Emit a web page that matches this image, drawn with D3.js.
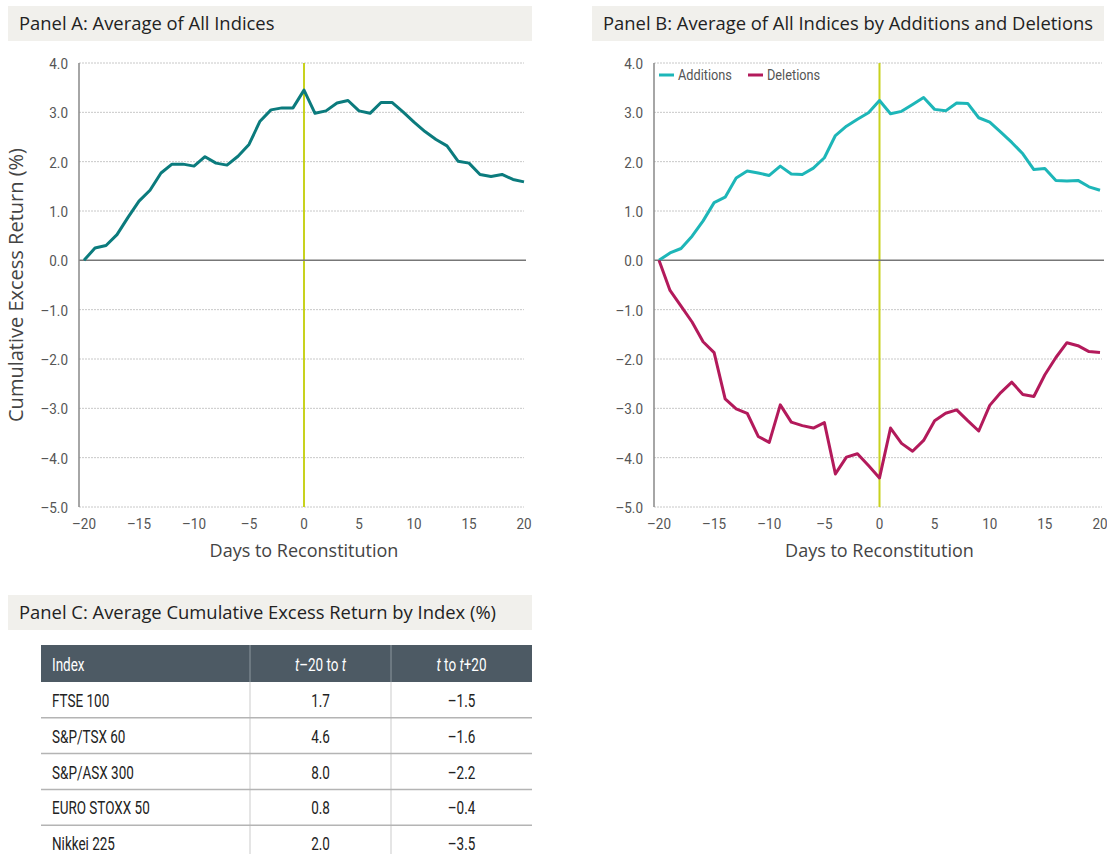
<!DOCTYPE html>
<html>
<head>
<meta charset="utf-8">
<script src="https://cdn.jsdelivr.net/npm/d3@7"></script>
<style>
body { margin: 0; background: #fff; }
svg { display: block; }
.title { font-family: "Open Sans", "Noto Sans", sans-serif; font-size: 18.4px; fill: #222; }
.tick-label { font-family: Roboto, sans-serif; font-size: 15px; fill: #555; }
.axis-title { font-family: "Open Sans", "Noto Sans", sans-serif; font-size: 18px; fill: #444; }
.cell { font-family: Roboto, sans-serif; font-size: 18px; fill: #222; }
</style>
</head>
<body>
<div id="chart"></div>
<script>
const WIDTH = 1107
const HEIGHT = 854
const NARROW = 0.75

const days = d3.range(-20, 21)
const allIndices = [0.00, 0.25, 0.30, 0.52, 0.87, 1.20, 1.42, 1.77, 1.95, 1.95, 1.91, 2.10, 1.97, 1.93, 2.11, 2.35, 2.82, 3.05, 3.09, 3.09,
    3.45, 2.98, 3.03, 3.19, 3.24, 3.03, 2.98, 3.20, 3.20, 3.01, 2.80, 2.61, 2.45, 2.32, 2.01, 1.97, 1.74, 1.70, 1.74, 1.64, 1.59]
const additions = [0.00, 0.15, 0.24, 0.49, 0.80, 1.17, 1.28, 1.67, 1.81, 1.77, 1.72, 1.91, 1.75, 1.74, 1.87, 2.08, 2.53, 2.72, 2.86, 2.99,
    3.24, 2.97, 3.02, 3.16, 3.30, 3.06, 3.03, 3.19, 3.18, 2.89, 2.80, 2.60, 2.39, 2.16, 1.84, 1.86, 1.62, 1.61, 1.62, 1.49, 1.42]
const deletions = [0.00, -0.61, -0.93, -1.25, -1.65, -1.87, -2.81, -3.01, -3.10, -3.57, -3.69, -2.93, -3.28, -3.35, -3.40, -3.29, -4.33, -3.99, -3.92, -4.16,
    -4.41, -3.40, -3.71, -3.87, -3.65, -3.25, -3.10, -3.03, -3.25, -3.46, -2.94, -2.68, -2.47, -2.72, -2.76, -2.32, -1.97, -1.67, -1.73, -1.85, -1.87]

const yTicks = [-5, -4, -3, -2, -1, 0, 1, 2, 3, 4]
const xTicks = [-20, -15, -10, -5, 0, 5, 10, 15, 20]

const tableHeader = ["Index", "t–20 to t", "t to t+20"]
const indexNames = ["FTSE 100", "S&P/TSX 60", "S&P/ASX 300", "EURO STOXX 50", "Nikkei 225"]
const before = ["1.7", "4.6", "8.0", "0.8", "2.0"]
const after = ["–1.5", "–1.6", "–2.2", "–0.4", "–3.5"]

const COLORS = { all: "#0b7b7d", add: "#1db6b8", del: "#b31a5b", zero: "#c8d21e" }

function fmt(v) {
    return d3.format(".1f")(v).replace("−", "–").replace("-", "–")
}

const svg = d3.select("#chart")
    .append("svg")
    .attr("width", WIDTH)
    .attr("height", HEIGHT)

// condensed-looking text: squeeze horizontally around its anchor point
function narrowText(parent, cls, x, y, anchor, sx) {
    return parent.append("g")
        .attr("transform", `translate(${x},${y}) scale(${sx || NARROW},1)`)
        .append("text")
        .attr("class", cls)
        .attr("text-anchor", anchor || "start")
}

function titleBox(x, y, w, text) {
    svg.append("rect")
        .attr("x", x).attr("y", y).attr("width", w).attr("height", 35)
        .attr("fill", "#f1f0ec")
    svg.append("text")
        .attr("class", "title")
        .attr("x", x + 11).attr("y", y + 24)
        .text(text)
}

function drawPanel(x, y, axisX, gridRight, series) {
    const g = svg.append("g")

    // gridlines
    g.selectAll(".grid")
        .data(yTicks.filter(t => t != 0))
        .enter().append("line")
        .attr("x1", axisX).attr("x2", gridRight)
        .attr("y1", d => y(d)).attr("y2", d => y(d))
        .attr("stroke", "#c8c8c8")
        .attr("stroke-dasharray", "2,1")

    // vertical line at day 0
    g.append("line")
        .attr("x1", x(0)).attr("x2", x(0))
        .attr("y1", y(4)).attr("y2", y(-5))
        .attr("stroke", COLORS.zero).attr("stroke-width", 2)

    // zero line
    g.append("line")
        .attr("x1", axisX).attr("x2", gridRight + 2)
        .attr("y1", y(0)).attr("y2", y(0))
        .attr("stroke", "#777").attr("stroke-width", 1.5)

    // y axis line
    g.append("line")
        .attr("x1", axisX).attr("x2", axisX)
        .attr("y1", y(4)).attr("y2", y(-5))
        .attr("stroke", "#888").attr("stroke-width", 1.5)

    yTicks.forEach(t => {
        narrowText(g, "tick-label", axisX - 11, y(t) + 6, "end", 0.9).text(fmt(t))
    })
    xTicks.forEach(t => {
        narrowText(g, "tick-label", x(t), y(-5) + 22, "middle", 0.9).text(String(t).replace("-", "–"))
    })

    g.append("text")
        .attr("class", "axis-title")
        .attr("x", x(0))
        .attr("y", y(-5) + 50)
        .attr("text-anchor", "middle")
        .text("Days to Reconstitution")

    const line = d3.line()
        .x((d, i) => x(days[i]))
        .y(d => y(d))

    series.forEach(s => {
        g.append("path")
            .datum(s.values)
            .attr("d", line)
            .attr("fill", "none")
            .attr("stroke", s.color)
            .attr("stroke-width", 3)
            .attr("stroke-linejoin", "round")
    })
}

// Panel A
titleBox(8, 6, 524, "Panel A: Average of All Indices")
const xA = d3.scaleLinear().domain([-20, 20]).range([84, 524])
const yA = d3.scaleLinear().domain([-5, 4]).range([507, 63])
drawPanel(xA, yA, 79, 524, [{ values: allIndices, color: COLORS.all }])

svg.append("text")
    .attr("class", "axis-title")
    .style("font-size", "20px")
    .attr("transform", "translate(23,285) rotate(-90)")
    .attr("text-anchor", "middle")
    .text("Cumulative Excess Return (%)")

// Panel B
titleBox(592, 6, 512, "Panel B: Average of All Indices by Additions and Deletions")
const xB = d3.scaleLinear().domain([-20, 20]).range([659, 1100])
const yB = d3.scaleLinear().domain([-5, 4]).range([507, 63])
drawPanel(xB, yB, 654, 1102, [
    { values: additions, color: COLORS.add },
    { values: deletions, color: COLORS.del }
])

// legend
const legend = [
    { name: "Additions", color: COLORS.add, x: 659 },
    { name: "Deletions", color: COLORS.del, x: 748 }
]
legend.forEach(l => {
    svg.append("line")
        .attr("x1", l.x).attr("x2", l.x + 15)
        .attr("y1", 75).attr("y2", 75)
        .attr("stroke", l.color).attr("stroke-width", 3)
    narrowText(svg, "tick-label", l.x + 19, 80, "start", 0.85).text(l.name)
})

// Panel C table
titleBox(8, 595, 524, "Panel C: Average Cumulative Excess Return by Index (%)")

const tableX = 41, tableRight = 532
const colX = [tableX, 250, 391, tableRight]
const headerTop = 645, headerH = 37, rowH = 35.8

svg.append("rect")
    .attr("x", tableX).attr("y", headerTop)
    .attr("width", tableRight - tableX).attr("height", headerH)
    .attr("fill", "#4d5a64")

// column dividers
colX.slice(1, 3).forEach(cx => {
    svg.append("line")
        .attr("x1", cx).attr("x2", cx)
        .attr("y1", headerTop).attr("y2", headerTop + headerH)
        .attr("stroke", "#8d979e").attr("stroke-width", 1)
    svg.append("line")
        .attr("x1", cx).attr("x2", cx)
        .attr("y1", headerTop + headerH).attr("y2", HEIGHT)
        .attr("stroke", "#dcdcdc").attr("stroke-width", 1.5)
})

// header text
narrowText(svg, "cell", tableX + 11, headerTop + 26).style("fill", "#fff").text(tableHeader[0])

const h1 = narrowText(svg, "cell", (colX[1] + colX[2]) / 2, headerTop + 26, "middle").style("fill", "#fff")
h1.append("tspan").attr("font-style", "italic").text("t")
h1.append("tspan").text("–20 to ")
h1.append("tspan").attr("font-style", "italic").text("t")

const h2 = narrowText(svg, "cell", (colX[2] + colX[3]) / 2, headerTop + 26, "middle").style("fill", "#fff")
h2.append("tspan").attr("font-style", "italic").text("t")
h2.append("tspan").text(" to ")
h2.append("tspan").attr("font-style", "italic").text("t")
h2.append("tspan").text("+20")

const rowTop = i => headerTop + headerH + i * rowH

// row separators
svg.selectAll(".rowline")
    .data(indexNames.slice(1))
    .enter().append("line")
    .attr("x1", tableX).attr("x2", tableRight)
    .attr("y1", (d, i) => rowTop(i + 1)).attr("y2", (d, i) => rowTop(i + 1))
    .attr("stroke", "#b4b4b4").attr("stroke-width", 1.5)

indexNames.forEach((name, i) => {
    narrowText(svg, "cell", tableX + 11, rowTop(i) + 25).text(name)
    narrowText(svg, "cell", (colX[1] + colX[2]) / 2, rowTop(i) + 25, "middle").text(before[i])
    narrowText(svg, "cell", (colX[2] + colX[3]) / 2, rowTop(i) + 25, "middle").text(after[i])
})
</script>
</body>
</html>
